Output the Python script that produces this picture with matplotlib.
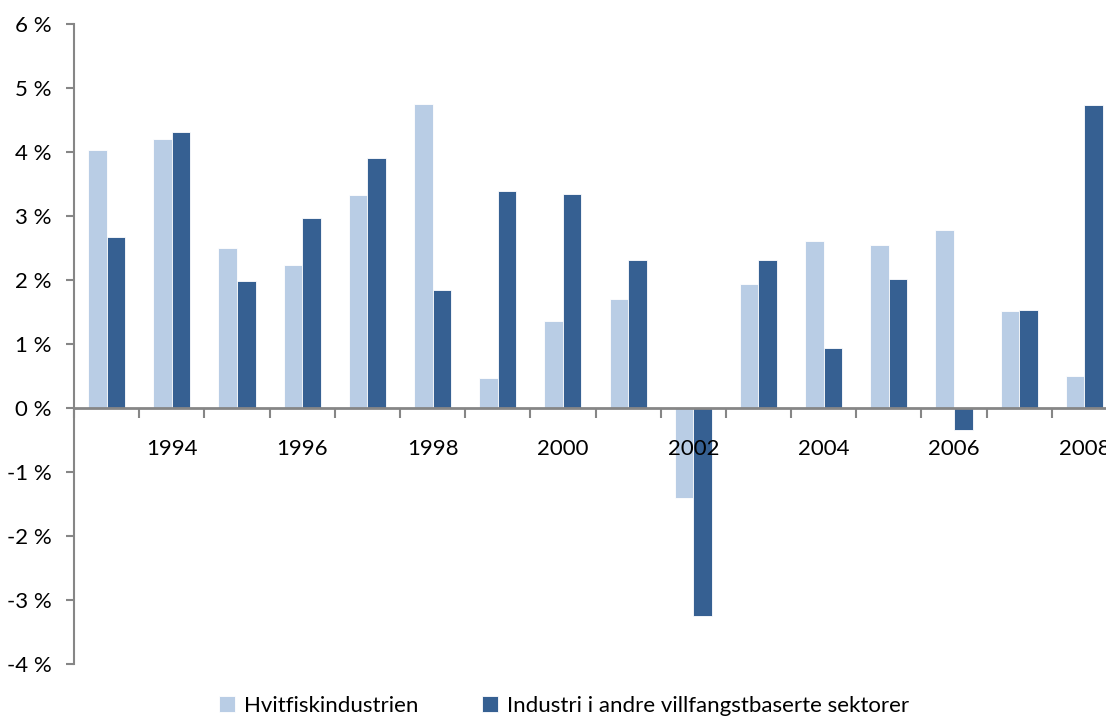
import matplotlib.pyplot as plt
import numpy as np

# data (percent)
years = list(range(1993, 2009))
hvitfisk = [4.03, 4.20, 2.50, 2.23, 3.33, 4.75, 0.47, 1.36, 1.70, -1.41,
            1.93, 2.61, 2.55, 2.78, 1.51, 0.50]
andre = [2.67, 4.31, 1.99, 2.97, 3.90, 1.84, 3.39, 3.35, 2.31, -3.25,
         2.31, 0.94, 2.02, -0.34, 1.53, 4.73]
labels = ["Hvitfiskindustrien", "Industri i andre villfangstbaserte sektorer"]

plt.rcParams['font.family'] = ['Lato', 'DejaVu Sans']
plt.rcParams['font.size'] = 16

light = "#b9cde5"
dark = "#366092"
axis_col = "#868686"

fig = plt.figure(figsize=(11.06, 7.19), dpi=100)
ax = fig.add_axes([74 / 1106, 1 - 664 / 719, 1043 / 1106, 640 / 719])

x = np.arange(len(years))
w = 0.285
ax.bar(x - w / 2, hvitfisk, w, color=light, edgecolor="white", linewidth=0.6, label=labels[0])
ax.bar(x + w / 2, andre, w, color=dark, edgecolor="white", linewidth=0.6, label=labels[1])

ax.set_xlim(-0.5, len(years) - 0.5)
ax.set_ylim(-4, 6)
ax.set_yticks(np.arange(-4, 7, 1))
ax.set_yticklabels(["%d %%" % v for v in range(-4, 7)])

for s in ["top", "right"]:
    ax.spines[s].set_visible(False)
ax.spines["bottom"].set_position(("data", 0))
ax.spines["bottom"].set_color(axis_col)
ax.spines["bottom"].set_linewidth(2)
ax.spines["left"].set_color(axis_col)
ax.spines["left"].set_linewidth(1.5)

ax.tick_params(axis="y", direction="out", length=6, width=1.5, color=axis_col, pad=10)
ax.set_xticks(x[1::2])
ax.set_xticklabels([str(y) for y in years[1::2]])
ax.tick_params(axis="x", which="major", length=0, pad=22)
ax.set_xticks(np.arange(-0.5, len(years), 1), minor=True)
ax.tick_params(axis="x", which="minor", direction="out", length=7, width=1.5, color=axis_col)

fig.legend(loc="center", bbox_to_anchor=(0.51, 1 - 706 / 719), ncol=2, frameon=False,
           handlelength=0.7, handleheight=0.7, handletextpad=0.4, columnspacing=2.9,
           fontsize=16)

fig.savefig("out.png", dpi=100)
